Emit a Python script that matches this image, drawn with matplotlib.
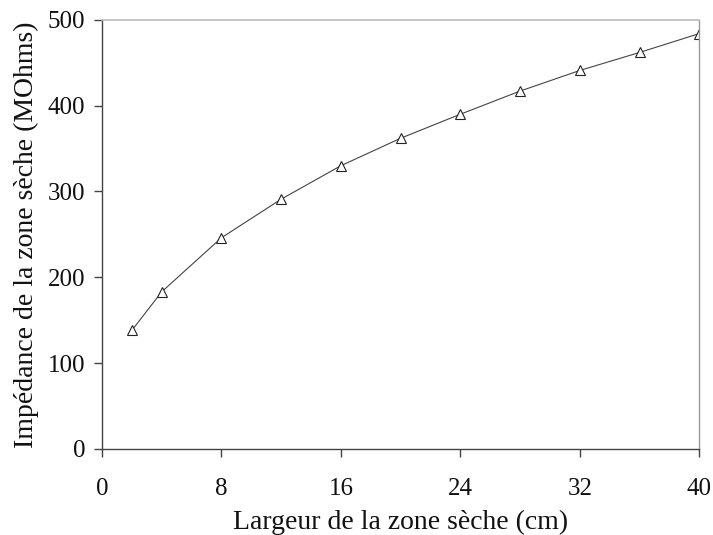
import matplotlib
matplotlib.use("Agg")
import matplotlib.pyplot as plt

# Largeur de la zone sèche (cm) et impédance mesurée (MOhms)
largeur_cm = [2, 4, 8, 12, 16, 20, 24, 28, 32, 36, 40]
impedance_mohms = [138, 183, 246, 291, 330, 362, 390, 417, 441, 462, 484]

x_ticks = [0, 8, 16, 24, 32, 40]
y_ticks = [0, 100, 200, 300, 400, 500]

plt.rcParams["font.family"] = ["Liberation Serif", "DejaVu Serif"]

fig = plt.figure(figsize=(7.13, 5.35), dpi=100)
ax = fig.add_axes([0.143, 0.161, 0.838, 0.802])

ax.plot(largeur_cm, impedance_mohms, color="#444444", linewidth=0.8,
        marker="^", markersize=6.5, markerfacecolor="white",
        markeredgecolor="#222222", markeredgewidth=0.8)

ax.set_xlim(0, 40)
ax.set_ylim(0, 500)
ax.set_xticks(x_ticks)
ax.set_yticks(y_ticks)

for side in ("left", "bottom"):
    ax.spines[side].set_color("#444444")
    ax.spines[side].set_linewidth(1.0)
ax.spines["top"].set_color("#bbbbbb")
ax.spines["right"].set_color("#999999")
ax.spines["top"].set_linewidth(1.2)
ax.spines["right"].set_linewidth(1.0)

ax.tick_params(axis="both", direction="out", length=6, width=1.0,
               color="#444444", labelsize=18, labelcolor="#111111")
ax.tick_params(axis="x", pad=15)
ax.tick_params(axis="y", pad=6)

ax.set_xlabel("Largeur de la zone sèche (cm)", fontsize=20, color="#111111", labelpad=7)
ax.set_ylabel("Impédance de la zone sèche (MOhms)", fontsize=20, color="#111111", labelpad=6)

fig.savefig("out.png", dpi=100)
